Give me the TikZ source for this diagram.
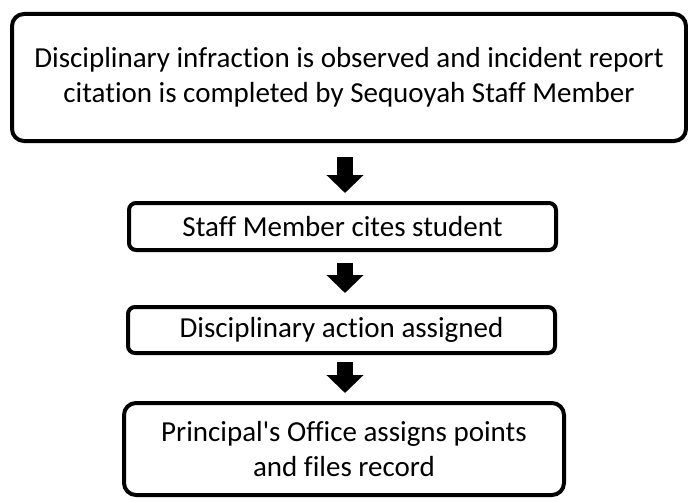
\documentclass[tikz,border=0pt]{standalone}
\usepackage{fontspec}
\setmainfont[Ligatures={NoCommon}]{Carlito}
\usepackage{tikz}
\usetikzlibrary{positioning}
\usetikzlibrary{shapes.geometric, arrows.meta}

\begin{document}
\begin{tikzpicture}[x=1pt, y=-1pt,
				 bigboxnode/.style={rectangle, rounded corners=12pt, draw=black, line width=4pt, inner sep=0pt, font=\fontsize{29}{35}\selectfont},
				 stepboxnode/.style={rectangle, rounded corners=7pt, draw=black, line width=4pt, inner sep=0pt, font=\fontsize{29}{35}\selectfont},
				 blockarrow/.style={line width=16pt, -{Triangle[width=36pt, length=18pt]}},
				 ]
				 \useasboundingbox (0,0) rectangle (688,503);
				 % Nodes
				 \node[bigboxnode, align=center, minimum width=674pt, minimum height=127pt]   (observed_level0)   at (349, 77.5)   {Disciplinary infraction is observed and incident report\\citation is completed by Sequoyah Staff Member};
				 \node[stepboxnode, align=center, minimum width=427pt, minimum height=47pt]   (cites_level1)      at (342.5, 226.5) {Staff Member cites student};
				 \node[stepboxnode, align=center, minimum width=427pt, minimum height=46pt]   (action_level2)     at (341.5, 330)  {Disciplinary action assigned};
				 \node[bigboxnode, align=center, minimum width=440pt, minimum height=92pt]    (office_level3)     at (344, 449)    {Principal\textquotesingle s Office assigns points\\and files record};
				 \coordinate (arrow_axis) at (345, 0);

				 % Lines
				 \draw[blockarrow, shorten <=14pt, shorten >=8pt]  (observed_level0.south -| arrow_axis) -- (cites_level1.north -| arrow_axis);
				 \draw[blockarrow, shorten <=11pt, shorten >=12pt] (cites_level1.south -| arrow_axis)    -- (action_level2.north -| arrow_axis);
				 \draw[blockarrow, shorten <=7pt, shorten >=8pt]   (action_level2.south -| arrow_axis)   -- (office_level3.north -| arrow_axis);
			\end{tikzpicture}
\end{document}
